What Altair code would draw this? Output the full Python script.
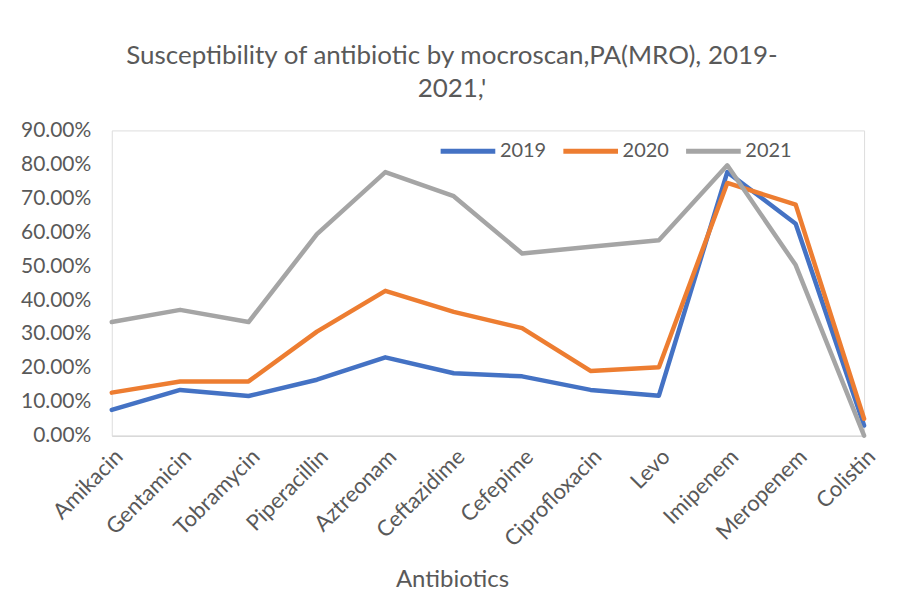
import altair as alt
import pandas as pd

categories = ["Amikacin", "Gentamicin", "Tobramycin", "Piperacillin", "Aztreonam",
              "Ceftazidime", "Cefepime", "Ciprofloxacin", "Levo", "Imipenem",
              "Meropenem", "Colistin"]
v2019 = [0.076, 0.135, 0.117, 0.165, 0.231, 0.184, 0.175, 0.135, 0.118, 0.777, 0.625, 0.03]
v2020 = [0.127, 0.160, 0.160, 0.307, 0.427, 0.365, 0.317, 0.191, 0.202, 0.745, 0.681, 0.05]
v2021 = [0.335, 0.371, 0.335, 0.594, 0.777, 0.706, 0.537, 0.557, 0.576, 0.797, 0.503, 0.0]
series = ["2019", "2020", "2021"]
colors = ["#4472C4", "#ED7D31", "#A5A5A5"]
y_ticks = [0.0, 0.1, 0.2, 0.3, 0.4, 0.5, 0.6, 0.7, 0.8, 0.9]

rows = []
for s, vals in zip(series, [v2019, v2020, v2021]):
    for i, (c, v) in enumerate(zip(categories, vals)):
        rows.append({"Antibiotic": c, "Year": s, "Value": v, "order": i})
df = pd.DataFrame(rows)

FONT = "Lato"
GREY_TXT = "#595959"

lines = alt.Chart(df).mark_line(strokeWidth=4.5, strokeJoin="round", strokeCap="round").encode(
    x=alt.X("Antibiotic:N", sort=categories,
            scale=alt.Scale(type="point", padding=0),
            axis=alt.Axis(title="Antibiotics", labelAngle=-45, labelFontSize=22,
                          labelColor=GREY_TXT, labelFont=FONT, labelPadding=10,
                          ticks=False, domainColor="#D9D9D9", domainWidth=1.5,
                          grid=False, titleFontSize=24, titleColor=GREY_TXT,
                          titleFont=FONT, titleFontWeight="normal",
                          titleX=341, titleY=144, titleAlign="center",
                          titleBaseline="middle", titleAnchor="start")),
    y=alt.Y("Value:Q", scale=alt.Scale(domain=[0, 0.9]),
            axis=alt.Axis(title=None, format=".2%", values=y_ticks, labelFontSize=21,
                          labelColor=GREY_TXT, labelFont=FONT, labelPadding=21,
                          ticks=False, domain=False, grid=False)),
    color=alt.Color("Year:N", scale=alt.Scale(domain=series, range=colors),
                    legend=alt.Legend(title=None, orient="none", legendX=327, legendY=-9,
                                      direction="horizontal", symbolType="stroke",
                                      symbolSize=3000, symbolStrokeWidth=5,
                                      labelFontSize=20, labelColor=GREY_TXT,
                                      labelFont=FONT, columnPadding=6, labelOffset=2)),
    order=alt.Order("order:Q"),
)

chart = lines.properties(
    width=754, height=306,
    autosize=alt.AutoSizeParams(type="none"),
    padding={"left": 104, "top": 122, "right": 30, "bottom": 170},
    title=alt.TitleParams(
        text=["Susceptibility of antibiotic by mocroscan,PA(MRO), 2019-", "2021,'"],
        fontSize=26, font=FONT, fontWeight="normal", color=GREY_TXT,
        anchor="middle", dx=-36, lineHeight=34, offset=17),
).configure_view(stroke=None).configure(background="white")

chart.save("out.html", embed_options={"renderer": "svg", "actions": False})
